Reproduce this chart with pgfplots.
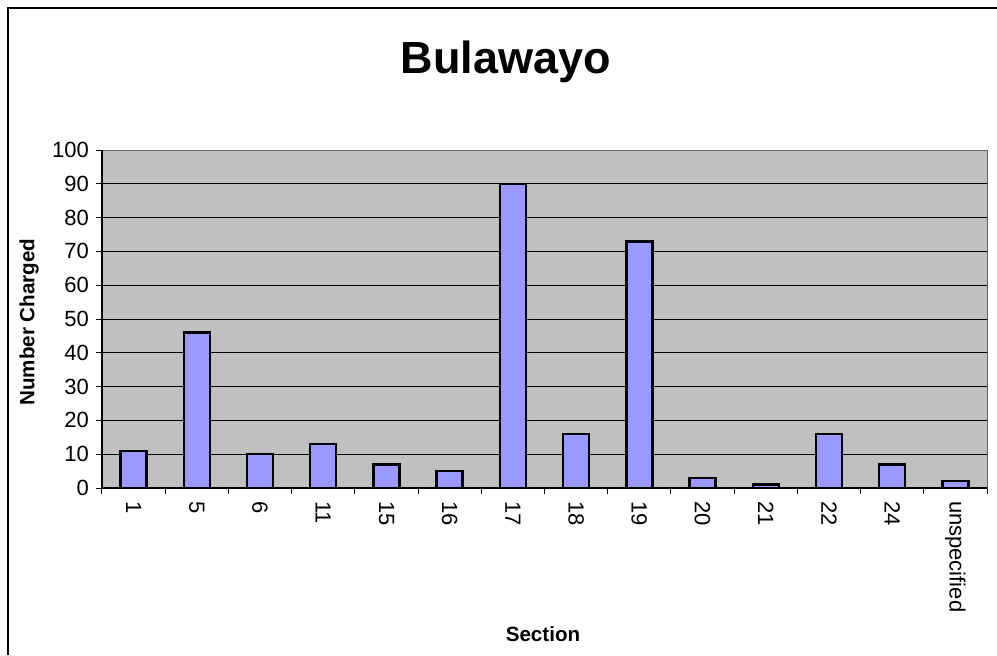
\documentclass[border=0pt]{standalone}
\usepackage{pgfplots}
\pgfplotsset{compat=1.18}
\usepackage{fontspec}
\setmainfont{Liberation Sans}
\definecolor{plotbg}{HTML}{C0C0C0}
\definecolor{barfill}{HTML}{9999FF}
\begin{document}
\begin{tikzpicture}[x=1pt,y=1pt]
\useasboundingbox (0,0) rectangle (498.5,327.5);
\draw[line width=0.6pt] (4,0) -- (4,323.5) -- (498.5,323.5);
\begin{axis}[
  at={(51pt,83.5pt)}, anchor=south west,
  scale only axis, width=442.5pt, height=169pt,
  xmin=-0.5, xmax=13.5, ymin=0, ymax=100,
  ytick={0,10,...,100},
  xtick={0,...,13},
  xticklabels={1,5,6,11,15,16,17,18,19,20,21,22,24,unspecified},
  minor xtick={-0.5,0.5,...,13.5},
  x tick label style={rotate=-90, anchor=west, font=\fontsize{11}{13}\selectfont},
  y tick label style={font=\fontsize{11}{13}\selectfont},
  /pgf/number format/assume math mode=true,
  axis background/.style={fill=plotbg},
  axis line style={draw=gray!80!black},
  ymajorgrids, major grid style={black, line width=0.5pt},
  tick style={black, line width=0.5pt},
  major x tick style={draw=none},
  tick align=outside,
  major tick length=3pt, minor tick length=3pt,
  xtick pos=bottom, ytick pos=left,
  ybar, bar width=13pt,
  clip=false,
]
\addplot[fill=barfill, draw=black, line width=1.25pt] coordinates {
(0,11) (1,46) (2,10) (3,13) (4,7) (5,5) (6,90) (7,16) (8,73) (9,3) (10,1) (11,16) (12,7) (13,2)};
\draw[black, line width=0.6pt] (rel axis cs:0,0) -- (rel axis cs:0,1);
\draw[black, line width=0.6pt] (rel axis cs:0,0) -- (rel axis cs:1,0);
\end{axis}
\node[font=\fontsize{22.5}{26}\selectfont\bfseries] at (253,296.5) {Bulawayo};
\node[font=\fontsize{10.3}{12}\selectfont\bfseries, rotate=90] at (14.5,166.5) {Number Charged};
\node[font=\fontsize{10.3}{12}\selectfont\bfseries] at (271.5,10.5) {Section};
\end{tikzpicture}
\end{document}
